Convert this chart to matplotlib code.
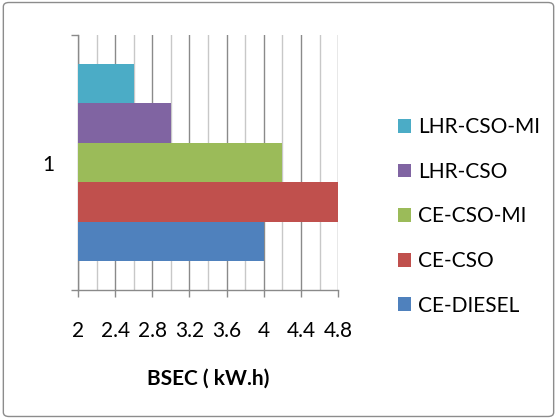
import matplotlib
matplotlib.use('Agg')
from matplotlib import pyplot as plt
from matplotlib.patches import FancyBboxPatch
from matplotlib.ticker import MultipleLocator

series = ['CE-DIESEL', 'CE-CSO', 'CE-CSO-MI', 'LHR-CSO', 'LHR-CSO-MI']
bsec = [4.0, 4.8, 4.2, 3.0, 2.6]
colors = ['#4F81BD', '#C0504D', '#9BBB59', '#8064A2', '#4BACC6']
category = '1'

plt.rcParams['font.family'] = ['Lato', 'DejaVu Sans']

fig = plt.figure(figsize=(5.57, 4.19), dpi=100)
ax = fig.add_axes([0.140, 0.308, 0.467, 0.608])

# chart frame
fig.patches.append(FancyBboxPatch((0.006, 0.006), 0.988, 0.988, boxstyle='round,pad=0,rounding_size=0.01',
                                  transform=fig.transFigure, fill=False, edgecolor='#8c8c8c', linewidth=1.0))

xmin, xmax = 2.0, 4.8
h = 0.155
n = len(series)
for i, (name, val, c) in enumerate(zip(series, bsec, colors)):
    y = (i - (n - 1) / 2) * h
    ax.barh(y, val - xmin, left=xmin, height=h, color=c, label=name, zorder=3)

ax.set_xlim(xmin, xmax)
ax.set_ylim(-0.5, 0.5)
ax.xaxis.set_major_locator(MultipleLocator(0.4))
ax.xaxis.set_minor_locator(MultipleLocator(0.2))
ax.set_xticks([2, 2.4, 2.8, 3.2, 3.6, 4, 4.4, 4.8])
ax.set_xticklabels(['2', '2.4', '2.8', '3.2', '3.6', '4', '4.4', '4.8'])
ax.grid(which='major', axis='x', color='#8a8a8a', linewidth=1.0, zorder=0)
ax.grid(which='minor', axis='x', color='#c8c8c8', linewidth=1.0, zorder=0)

ax.set_yticks([0])
ax.set_yticklabels([category])
ax.set_yticks([-0.5, 0.5], minor=True)
ax.tick_params(axis='y', which='major', length=0, pad=17, labelsize=15)
ax.tick_params(axis='y', which='minor', length=5, color='#8a8a8a', width=1)
ax.tick_params(axis='x', which='major', length=5, color='#8a8a8a', width=1, pad=17, labelsize=15)
ax.tick_params(axis='x', which='minor', length=0)

for s in ['top', 'right']:
    ax.spines[s].set_visible(False)
for s in ['left', 'bottom']:
    ax.spines[s].set_color('#8a8a8a')
    ax.spines[s].set_linewidth(1.0)

ax.set_xlabel('BSEC ( kW.h)', fontsize=15, fontweight='bold', labelpad=20)

handles, labels = ax.get_legend_handles_labels()
fig.legend(handles[::-1], labels[::-1], loc='upper left', bbox_to_anchor=(0.680, 0.765),
           frameon=False, fontsize=15, handlelength=0.65, handleheight=0.65,
           handletextpad=0.35, labelspacing=1.18)

fig.savefig('out.png', dpi=100)
